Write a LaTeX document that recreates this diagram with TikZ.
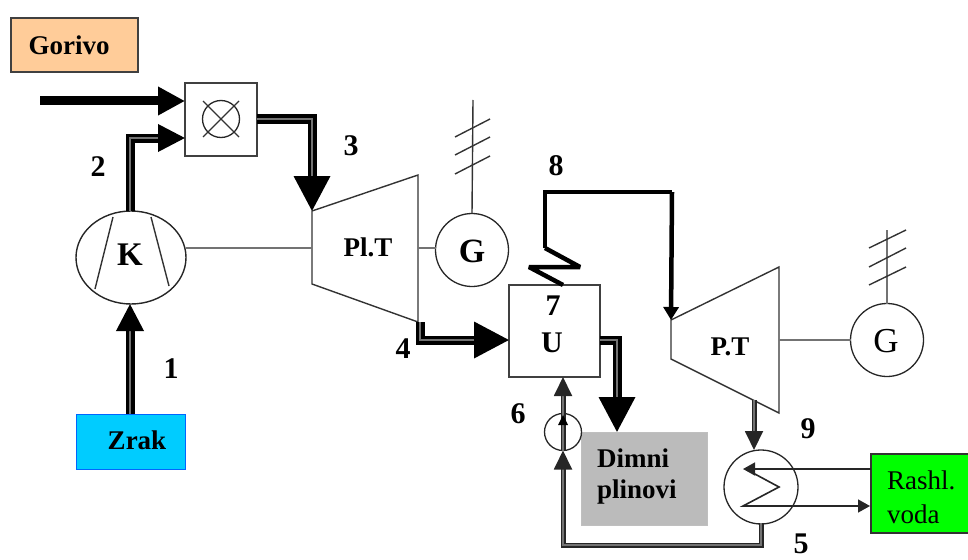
\documentclass[tikz,border=0pt]{standalone}
\usepackage{fontspec}
\setmainfont{Liberation Serif}
\usetikzlibrary{arrows.meta}
\newcommand{\fsz}[1]{\fontsize{#1}{#1}\selectfont}
\definecolor{fuelc}{HTML}{FFCC99}
\definecolor{airc}{HTML}{00CCFF}
\definecolor{smokec}{HTML}{BBBBBB}
\definecolor{waterc}{HTML}{00FF00}
\tikzset{
  thinl/.style={draw=black!80,line width=1.4pt},
  shaftl/.style={draw=black!55,line width=1.5pt},
  boxn/.style={draw=black!75,line width=1.3pt,minimum width=#1,inner sep=0pt,outer sep=0pt},
  circn/.style={circle,draw=black!85,line width=1.3pt,minimum size=#1,inner sep=0pt,outer sep=0pt},
  lab/.style={font=\fsz{30}\bfseries,inner sep=0pt},
  txt/.style={font=\fsz{27}\bfseries,inner sep=0pt},
  solidflow/.style={draw=black,line width=9pt,line join=miter},
  tripleflow/.style={draw=black,line width=3.8pt,double=black!55,double distance=1.4pt,line join=miter},
  midflow/.style={draw=black!85,line width=1.9pt,double=black!55,double distance=1.2pt,line join=miter},
  steam/.style={draw=black,line width=4.5pt,line join=miter,miter limit=3},
  bighead/.style={-{Triangle[length=27pt,width=27pt]}},
  hugehead/.style={-{Triangle[length=35pt,width=36pt]}},
  medhead/.style={-{Triangle[length=19pt,width=18pt]}},
  smallhead/.style={-{Triangle[length=12pt,width=13pt]}},
}
\begin{document}
\begin{tikzpicture}[x=1pt,y=-1pt]
\useasboundingbox (0,0) rectangle (968,559);
% boxes
\node[boxn=127pt,minimum height=54pt,fill=fuelc,anchor=north west] (gorivo) at (11,18) {};
\node[txt] (gorivotxt) at (69,45) {Gorivo};
\node[boxn=72pt,minimum height=73pt,fill=white,anchor=north west] (mix) at (185,83) {};
\node[circn=37pt] (flame) at (221,119) {};
\coordinate (fa) at (203,101); \coordinate (fb) at (239,137);
\coordinate (fc) at (239,101); \coordinate (fd) at (203,137);
\draw[thinl] (fa)--(fb) (fc)--(fd);
\node[fill=airc,draw=blue!60!cyan,line width=1pt,minimum width=109pt,minimum height=55pt,inner sep=0pt,outer sep=0pt,anchor=north west] (zrak) at (76,414) {};
\node[txt] (zraktxt) at (137,440) {Zrak};
\node[boxn=91pt,minimum height=92pt,fill=white,anchor=north west] (heat) at (509,285) {};
\node[lab] (n7) at (553,306) {7};
\node[font=\fsz{30}\bfseries,inner sep=0pt] (utxt) at (552,343) {U};
\node[fill=smokec,draw=black!25,line width=1pt,minimum width=126pt,minimum height=93pt,inner sep=0pt,outer sep=0pt,anchor=north west] (smoke) at (581,432) {};
\node[txt,anchor=west] (dim1) at (597,458) {Dimni};
\node[txt,anchor=west] (dim2) at (597,492) {plinovi};
\node[fill=waterc,draw=black!80,line width=1.2pt,minimum width=100pt,minimum height=79pt,inner sep=0pt,outer sep=0pt,anchor=north west] (water) at (871,454) {};
\node[font=\fsz{27},inner sep=0pt,anchor=west] (w1) at (887,480) {Rashl.};
\node[font=\fsz{27},inner sep=0pt,anchor=west] (w2) at (887,514) {voda};
% compressor
\coordinate (kc) at (131,257.5);
\draw[draw=black!85,line width=1.4pt] (kc) ellipse [x radius=55,y radius=46.5];
\coordinate (k1) at (113,217); \coordinate (k2) at (95,289);
\coordinate (k3) at (151,217); \coordinate (k4) at (169,286);
\draw[thinl] (k1)--(k2) (k3)--(k4);
\node[font=\fsz{33}\bfseries,inner sep=0pt] (ktxt) at (130,255) {K};
\coordinate (kright) at (186,248); \coordinate (ktop) at (130,211); \coordinate (kbot) at (130,304);
% turbine 1
\coordinate (t1a) at (312,211); \coordinate (t1b) at (418,175);
\coordinate (t1c) at (418,322); \coordinate (t1d) at (312,284);
\draw[thinl,line join=miter] (t1a)--(t1b)--(t1c)--(t1d)--cycle;
\node[txt] (t1txt) at (368,247) {Pl.T};
\node[circn=73pt] (g1) at (472,250) {};
\node[font=\fsz{34}\bfseries,inner sep=0pt] (g1txt) at (472,251) {G};
\coordinate (s1a) at (312,248); \coordinate (s1b) at (418,248);
\draw[shaftl] (kright)--(s1a) (s1b)--(g1.west|-s1b);
\coordinate (a1top) at (473,100);
\draw[thinl] (g1.north)--(a1top);
\coordinate (h1a) at (455,137); \coordinate (h1b) at (490,119);
\coordinate (h2a) at (455,155); \coordinate (h2b) at (490,137);
\coordinate (h3a) at (455,174); \coordinate (h3b) at (490,156);
\draw[thinl] (h1a)--(h1b) (h2a)--(h2b) (h3a)--(h3b);
% turbine 2
\coordinate (t2a) at (671,320); \coordinate (t2b) at (779,267);
\coordinate (t2c) at (779,413); \coordinate (t2d) at (671,359);
\draw[thinl,line join=miter] (t2a)--(t2b)--(t2c)--(t2d)--cycle;
\node[txt] (t2txt) at (730,347) {P.T};
\node[circn=73pt] (g2) at (887,340) {};
\node[font=\fsz{35},inner sep=0pt] (g2txt) at (886,341) {G};
\coordinate (s2b) at (779,340);
\draw[shaftl] (s2b)--(g2.west);
\coordinate (a2top) at (887,230);
\draw[shaftl] (g2.north)--(a2top);
\coordinate (i1a) at (869,248); \coordinate (i1b) at (906,230);
\coordinate (i2a) at (869,267); \coordinate (i2b) at (906,248);
\coordinate (i3a) at (869,285); \coordinate (i3b) at (906,267);
\draw[thinl] (i1a)--(i1b) (i2a)--(i2b) (i3a)--(i3b);
% pump and condenser
\node[circn=37pt] (pump) at (563,432) {};
\node[circn=74pt] (cond) at (761,487) {};
% flows
\coordinate (fuel) at (40,101);
\draw[solidflow,bighead] (fuel)--(mix.west|-fuel);
\coordinate (air2) at (185,138);
\draw[tripleflow,bighead] (ktop)--(130,138)--(air2);
\draw[tripleflow,bighead] (zrak.north-|kbot)--(kbot);
\coordinate (mo) at (257,119);
\draw[tripleflow,hugehead] (mo)--(312,119)--(t1a);
\coordinate (t1o) at (420,322);
\coordinate (hin) at (509,340);
\draw[tripleflow,hugehead] (t1o)--(420,340)--(hin);
\coordinate (ho) at (600,340);
\coordinate (smk) at (617,432);
\draw[tripleflow,hugehead] (ho)--(617,340)--(smk);
% steam
\coordinate (z1) at (563,285); \coordinate (z2) at (529,267);
\coordinate (z3) at (580,267); \coordinate (z4) at (545,248);
\coordinate (z5) at (545,192); \coordinate (z6) at (672,192);
\draw[steam,miter limit=10] (z4)--(z5)--(z6);
\draw[steam,-{Triangle[length=13pt,width=15pt]}] (z6)--(t2a);
\draw[steam] (z1)--(z2)--(z3)--(z4);
% condensate
\coordinate (cb) at (761,523); \coordinate (c1) at (761,545); \coordinate (c2) at (563,545);
\draw[midflow,medhead] (cb)--(c1)--(c2)--(pump.south);
\draw[midflow] (pump.south)--(pump.north);
\fill[black] (558,425)--(568,425)--(563,415)--cycle;
\draw[midflow,medhead] (pump.north)--(heat.south-|pump);
\coordinate (t2o) at (754,400);
\draw[midflow,medhead] (t2o)--(cond.north-|t2o);
% coil
\coordinate (r1) at (871,469); \coordinate (r2) at (743,469);
\coordinate (co1) at (753,473); \coordinate (co2) at (779,487);
\coordinate (co3) at (743,506); \coordinate (r3) at (870,506);
\draw[draw=black!85,line width=1.6pt,smallhead] (r1)--(r2);
\draw[draw=black!85,line width=1.6pt,smallhead] (co1)--(co2)--(co3)--(r3);
% labels
\node[lab] (n1) at (171,369) {1};
\node[lab] (n2) at (98,167) {2};
\node[lab] (n3) at (351,146) {3};
\node[lab] (n4) at (403,349) {4};
\node[lab] (n5) at (801,544) {5};
\node[lab] (n6) at (518,414) {6};
\node[lab] (n8) at (556,166) {8};
\node[lab] (n9) at (808,429) {9};
\end{tikzpicture}
\end{document}
